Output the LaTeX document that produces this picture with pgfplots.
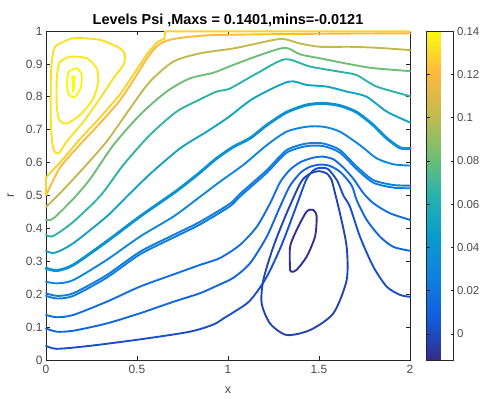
\documentclass[border=0pt]{standalone}
\usepackage{fontspec}
\setmainfont{Liberation Sans}
\usepackage{pgfplots}
\pgfplotsset{compat=1.18}
\definecolor{axgray}{rgb}{0.15,0.15,0.15}
\definecolor{labgray}{rgb}{0.3,0.3,0.3}
\pgfplotsset{colormap={parula}{
 rgb=(0.208,0.166,0.529)
 rgb=(0.07,0.36,0.87)
 rgb=(0.06,0.50,0.88)
 rgb=(0.03,0.61,0.80)
 rgb=(0.15,0.70,0.68)
 rgb=(0.45,0.75,0.45)
 rgb=(0.78,0.73,0.30)
 rgb=(0.99,0.73,0.24)
 rgb=(0.976,0.983,0.054)}}
% cl=<position of the level in the colour scale, 0..1000 from -0.0121 to 0.1401>
\pgfplotsset{cl/.style={color of colormap={#1}, line width=1.9pt, line cap=round, line join=round, smooth, tension=0.45}}
\begin{document}
\begin{tikzpicture}[x=1bp,y=1bp]
\path[use as bounding box] (0,0) rectangle (482,399);
\begin{axis}[at={(46bp,39bp)}, anchor=south west, scale only axis,
 width=364bp, height=329bp,
 xmin=0, xmax=2, ymin=0, ymax=1,
 clip=false,
 colormap name=parula,
 point meta min=-0.0121, point meta max=0.1401,
 xtick={0,0.5,1,1.5,2}, xticklabels={0,0.5,1,1.5,2},
 ytick={0,0.1,0.2,0.3,0.4,0.5,0.6,0.7,0.8,0.9,1},
 yticklabels={0,0.1,0.2,0.3,0.4,0.5,0.6,0.7,0.8,0.9,1},
 tick align=inside, major tick length=4bp,
 axis line style={axgray, line width=0.6pt},
 every tick/.style={axgray, line width=0.6pt},
 tick label style={font=\fontsize{12}{14}\selectfont, text=labgray},
 xticklabel style={yshift=-2bp},
 xlabel={x}, ylabel={r},
 label style={font=\fontsize{12.5}{14}\selectfont, text=labgray},
 xlabel style={yshift=-6bp},
 ylabel style={yshift=5bp},
 title={Levels Psi ,Maxs = 0.1401,mins=-0.0121},
 title style={font=\bfseries\fontsize{14.5}{16}\selectfont, yshift=-5bp},
 colorbar,
 colorbar style={at={(parent axis.north east)}, anchor=north west, xshift=8bp,
   width=27bp,
   ytick={0,0.02,0.04,0.06,0.08,0.1,0.12,0.14},
   yticklabels={0,0.02,0.04,0.06,0.08,0.1,0.12,0.14},
   tick align=inside, ytick align=inside, major tick length=3bp,
   axis line style={axgray, line width=0.6pt},
   every tick/.style={axgray, line width=0.6pt},
   yticklabel style={font=\fontsize{11.5}{13}\selectfont, text=labgray, xshift=0bp}},
]
% small negative cell (-0.0095)
\addplot[cl=17] coordinates {(1.341,0.274) (1.341,0.344) (1.377,0.395) (1.432,0.451) (1.469,0.456) (1.487,0.436) (1.478,0.375) (1.432,0.314) (1.377,0.274) (1.35,0.268) (1.341,0.274)};
% big loop (-0.002)
\addplot[cl=66] coordinates {(1.57,0.547) (1.615,0.446) (1.652,0.344) (1.652,0.243) (1.579,0.142) (1.451,0.091) (1.322,0.076) (1.231,0.111) (1.185,0.172) (1.194,0.243) (1.249,0.344) (1.322,0.446) (1.40,0.54) (1.45,0.566) (1.50,0.574) (1.545,0.566) (1.57,0.547)};
% L1 (0.002)
\addplot[cl=93] coordinates {(0,0.043) (0.06,0.034) (0.24,0.043) (0.52,0.063) (0.79,0.086) (0.92,0.108) (0.98,0.128) (1.03,0.145) (1.12,0.18) (1.21,0.25) (1.295,0.35) (1.377,0.47) (1.43,0.548) (1.47,0.577) (1.505,0.584) (1.55,0.58) (1.60,0.545) (1.634,0.5) (1.67,0.466) (1.725,0.375) (1.798,0.284) (1.872,0.223) (1.945,0.198) (2.0,0.192)};
% L2 (0.012)
\addplot[cl=158] coordinates {(0,0.096) (0.06,0.086) (0.15,0.089) (0.333,0.111) (0.516,0.142) (0.70,0.177) (0.846,0.203) (0.956,0.23) (1.03,0.25) (1.121,0.294) (1.213,0.375) (1.286,0.466) (1.341,0.53) (1.40,0.57) (1.45,0.587) (1.505,0.594) (1.56,0.59) (1.62,0.57) (1.68,0.53) (1.707,0.486) (1.762,0.426) (1.835,0.375) (1.908,0.344) (2.0,0.332)};
% L3 (0.017)
\addplot[cl=191] coordinates {(0,0.137) (0.06,0.13) (0.15,0.137) (0.333,0.177) (0.516,0.223) (0.70,0.26) (0.846,0.289) (0.956,0.31) (1.066,0.35) (1.158,0.405) (1.231,0.476) (1.286,0.54) (1.34,0.578) (1.40,0.602) (1.469,0.615) (1.524,0.618) (1.579,0.61) (1.634,0.585) (1.69,0.55) (1.744,0.507) (1.8,0.476) (1.89,0.446) (2.0,0.426)};
% L4, double (0.024, 0.025)
\addplot[cl=237] coordinates {(0,0.195) (0.06,0.187) (0.15,0.195) (0.333,0.25) (0.516,0.321) (0.70,0.372) (0.846,0.412) (1.01,0.467) (1.066,0.497) (1.213,0.569) (1.322,0.63) (1.432,0.65) (1.524,0.65) (1.615,0.63) (1.707,0.58) (1.798,0.539) (1.908,0.524) (2.0,0.522)};
\addplot[cl=244] coordinates {(0,0.203) (0.06,0.195) (0.15,0.203) (0.333,0.258) (0.516,0.329) (0.70,0.38) (0.846,0.42) (1.01,0.475) (1.066,0.505) (1.213,0.577) (1.322,0.638) (1.432,0.658) (1.524,0.658) (1.615,0.638) (1.707,0.588) (1.798,0.547) (1.908,0.532) (2.0,0.53)};
% L5 (0.030)
\addplot[cl=277] coordinates {(0,0.238) (0.06,0.233) (0.15,0.243) (0.333,0.304) (0.516,0.375) (0.70,0.436) (0.846,0.496) (0.956,0.542) (1.084,0.593) (1.213,0.653) (1.322,0.694) (1.432,0.709) (1.524,0.709) (1.615,0.694) (1.725,0.653) (1.817,0.613) (1.908,0.595) (2.0,0.591)};
% L6, thick (0.039)
\addplot[cl=336, line width=3pt] coordinates {(0,0.279) (0.06,0.272) (0.15,0.289) (0.333,0.36) (0.516,0.436) (0.70,0.507) (0.79,0.545) (0.846,0.57) (0.938,0.613) (1.03,0.648) (1.121,0.674) (1.213,0.714) (1.322,0.753) (1.432,0.775) (1.524,0.78) (1.615,0.773) (1.707,0.753) (1.798,0.714) (1.872,0.674) (1.945,0.645) (2.0,0.643)};
% L7 (0.052)
\addplot[cl=421] coordinates {(0,0.331) (0.05,0.326) (0.15,0.355) (0.333,0.436) (0.45,0.50) (0.571,0.565) (0.736,0.643) (0.883,0.694) (1.0,0.737) (1.139,0.795) (1.332,0.846) (1.432,0.836) (1.542,0.831) (1.652,0.816) (1.762,0.80) (1.872,0.755) (2.0,0.722)};
% L8 (0.066)
\addplot[cl=513] coordinates {(0,0.38) (0.04,0.377) (0.15,0.42) (0.30,0.50) (0.425,0.593) (0.571,0.684) (0.718,0.755) (0.846,0.792) (0.938,0.816) (1.01,0.825) (1.158,0.871) (1.313,0.914) (1.45,0.892) (1.615,0.876) (1.707,0.866) (1.817,0.831) (2.0,0.802)};
% L9 (0.082)
\addplot[cl=618] coordinates {(0,0.426) (0.04,0.43) (0.15,0.49) (0.242,0.55) (0.37,0.653) (0.516,0.745) (0.663,0.816) (0.791,0.856) (0.919,0.873) (1.03,0.897) (1.176,0.927) (1.313,0.949) (1.396,0.929) (1.505,0.917) (1.689,0.897) (1.80,0.887) (2.0,0.878)};
% L10 (0.101)
\addplot[cl=743] coordinates {(0,0.465) (0.077,0.507) (0.187,0.572) (0.333,0.664) (0.462,0.765) (0.571,0.846) (0.70,0.907) (0.846,0.932) (1.03,0.947) (1.158,0.962) (1.295,0.976) (1.396,0.962) (1.505,0.952) (1.67,0.952) (1.817,0.949) (2.0,0.942)};
% Y1 (0.121)
\addplot[cl=875] coordinates {(0,0.50) (0.077,0.585) (0.187,0.655) (0.297,0.72) (0.407,0.79) (0.498,0.866) (0.553,0.915) (0.608,0.953) (0.66,0.97) (0.75,0.98) (0.9,0.987) (1.2,0.99) (1.6,0.992) (2.0,0.993)};
% Y2 (0.128)
\addplot[cl=920, sharp plot] coordinates {(0,0.505) (0,0.555) (0.077,0.60) (0.187,0.672) (0.297,0.737) (0.407,0.807) (0.498,0.882) (0.553,0.928) (0.608,0.965) (0.652,0.978) (0.654,0.999) (2.0,0.999)};
% island (0.132, 0.135, 0.1385, 0.1401)
\addplot[cl=947] coordinates {(0.059,0.957) (0.15,0.978) (0.297,0.973) (0.407,0.947) (0.434,0.927) (0.425,0.897) (0.37,0.856) (0.297,0.795) (0.205,0.724) (0.114,0.664) (0.068,0.628) (0.04,0.643) (0.027,0.714) (0.027,0.866) (0.04,0.937) (0.059,0.957)};
\addplot[cl=965] coordinates {(0.077,0.907) (0.132,0.922) (0.224,0.917) (0.278,0.887) (0.287,0.846) (0.26,0.795) (0.187,0.745) (0.114,0.719) (0.073,0.73) (0.059,0.775) (0.059,0.856) (0.068,0.892) (0.077,0.907)};
\addplot[cl=989] coordinates {(0.123,0.876) (0.168,0.887) (0.196,0.866) (0.19,0.826) (0.159,0.80) (0.128,0.805) (0.114,0.836) (0.123,0.876)};
\addplot[cl=1000, sharp plot] coordinates {(0.145,0.862) (0.158,0.862) (0.155,0.835) (0.15,0.815) (0.146,0.835) (0.145,0.862)};
\end{axis}
\end{tikzpicture}
\end{document}
